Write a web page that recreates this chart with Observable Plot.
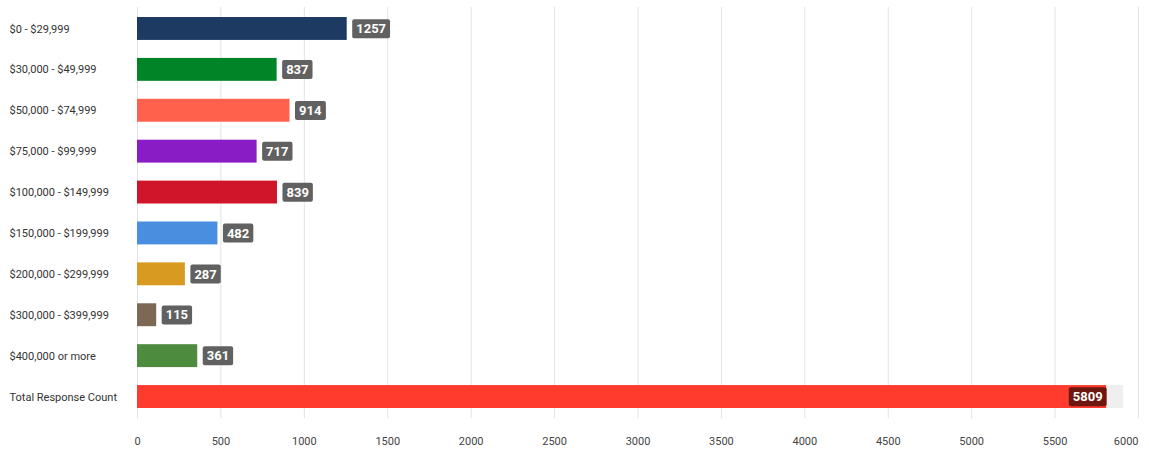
<!DOCTYPE html>
<html>
<head>
<meta charset="utf-8">
<script src="https://cdn.jsdelivr.net/npm/d3@7"></script>
<script src="https://cdn.jsdelivr.net/npm/@observablehq/plot@0.6"></script>
<style>
  html, body { margin: 0; padding: 0; background: #fff; }
  svg { display: block; }
</style>
</head>
<body>
<div id="chart"></div>
<script>
const categories = [
  "$0 - $29,999",
  "$30,000 - $49,999",
  "$50,000 - $74,999",
  "$75,000 - $99,999",
  "$100,000 - $149,999",
  "$150,000 - $199,999",
  "$200,000 - $299,999",
  "$300,000 - $399,999",
  "$400,000 or more",
  "Total Response Count"
];
const counts = [1257, 837, 914, 717, 839, 482, 287, 115, 361, 5809];
const colors = ["#1d3a63", "#008428", "#ff614d", "#8a1cc6", "#d0152b", "#4a8fdf", "#d99a22", "#7d6755", "#4d8b3f", "#ff3b2e"];
const trackValue = 5910;
const xTicks = [0, 500, 1000, 1500, 2000, 2500, 3000, 3500, 4000, 4500, 5000, 5500, 6000];

const data = categories.map((c, i) => ({cat: c, value: counts[i], color: colors[i], total: i === categories.length - 1}));
const rows = data.filter(d => !d.total);
const totalRow = data.filter(d => d.total);

const font = "Roboto, 'Noto Sans', sans-serif";

const chart = Plot.plot({
  width: 1149,
  height: 457,
  marginLeft: 137,
  marginRight: 11,
  marginTop: 7,
  marginBottom: 39,
  style: {fontFamily: font, fontSize: "11px", color: "#444", background: "#fff"},
  x: {domain: [0, 6000], label: null, axis: null},
  y: {domain: categories, paddingInner: 0.44, paddingOuter: 0.245, round: false, axis: null, label: null},
  marks: [
    Plot.ruleX(xTicks, {x: d => d, stroke: "#e3e3e3", strokeWidth: 1}),
    Plot.barX(totalRow, {y: "cat", x1: 0, x2: () => trackValue, fill: "#efefef"}),
    Plot.barX(data, {y: "cat", x: "value", fill: "color"}),
    Plot.text(xTicks.slice(0, -1), {x: d => d, text: d => String(d), frameAnchor: "bottom", lineAnchor: "middle", dy: 23, fontSize: 11, fill: "#444"}),
    Plot.text(xTicks.slice(-1), {x: d => d, text: d => String(d), frameAnchor: "bottom", lineAnchor: "middle", dy: 23, textAnchor: "end", fontSize: 11, fill: "#444"}),
    Plot.text(data, {y: "cat", text: "cat", frameAnchor: "left", textAnchor: "start", dx: -128, fontSize: 11, fill: "#333"}),
    Plot.text(rows, {y: "cat", x: "value", text: d => String(d.value), textAnchor: "start", dx: 9, fill: "#fffffe", fontWeight: "bold", fontSize: 13}),
    Plot.text(totalRow, {y: "cat", x: "value", text: d => String(d.value), textAnchor: "end", dx: -4, fill: "#fefefe", fontWeight: "bold", fontSize: 13})
  ]
});

document.getElementById("chart").appendChild(chart);

function boxLabels(fillKey, fill) {
  chart.querySelectorAll('g[fill="' + fillKey + '"] text').forEach(t => {
    const b = t.getBBox();
    const cy = b.y + b.height / 2;
    const r = document.createElementNS("http://www.w3.org/2000/svg", "rect");
    r.setAttribute("x", b.x - 4);
    r.setAttribute("y", cy - 9.5);
    r.setAttribute("width", b.width + 8);
    r.setAttribute("height", 19);
    r.setAttribute("rx", 2);
    r.setAttribute("fill", fill);
    if (t.getAttribute("transform")) r.setAttribute("transform", t.getAttribute("transform"));
    t.parentNode.insertBefore(r, t);
  });
}
boxLabels("#fffffe", "#616161");
boxLabels("#fefefe", "#6e1610");
</script>
</body>
</html>
